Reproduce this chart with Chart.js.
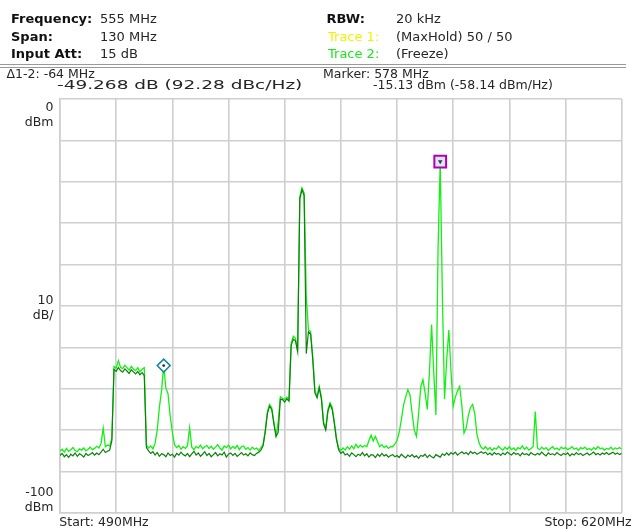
<!DOCTYPE html>
<html>
<head>
<meta charset="utf-8">
<script src="https://cdn.jsdelivr.net/npm/chart.js@4.4.1/dist/chart.umd.min.js"></script>
<style>
  html, body { margin: 0; padding: 0; background: #fff; }
  #wrap { position: relative; width: 632px; height: 529px; overflow: hidden;
          font-family: "DejaVu Sans", sans-serif; color: #262626; }
  #wrap canvas { position: absolute; left: 0; top: 0; }
  .t { position: absolute; white-space: nowrap; font-size: 12.5px; line-height: 14px; }
  .h { font-size: 13px; line-height: 15px; }
  .b { font-weight: bold; color: #111; }
  .ra { text-align: right; }
  .wide { transform: scaleX(1.48); transform-origin: 0 0; }
  .sep { position: absolute; left: 0; width: 626px; height: 0; border-top: 1px solid #9a9a9a; }
</style>
</head>
<body>
<div id="wrap">
  <canvas id="spectrum" width="632" height="529"></canvas>

  <!-- instrument settings -->
  <div class="t h b" id="hl0" style="left:11px;top:11px"></div>
  <div class="t h b" id="hl1" style="left:11px;top:28.7px"></div>
  <div class="t h b" id="hl2" style="left:11px;top:46.4px"></div>
  <div class="t h" id="hv0" style="left:100px;top:11px"></div>
  <div class="t h" id="hv1" style="left:100px;top:28.7px"></div>
  <div class="t h" id="hv2" style="left:100px;top:46.4px"></div>
  <div class="t h b" id="sl0" style="left:326.5px;top:11px"></div>
  <div class="t h" id="sl1" style="left:328px;top:28.7px;color:#f2f200"></div>
  <div class="t h" id="sl2" style="left:328px;top:46.4px;color:#1ee61e"></div>
  <div class="t h" id="sv0" style="left:396px;top:11px"></div>
  <div class="t h" id="sv1" style="left:396px;top:28.7px"></div>
  <div class="t h" id="sv2" style="left:396px;top:46.4px"></div>

  <div class="sep" style="top:64px"></div>
  <div class="sep" style="top:67px"></div>

  <!-- marker readouts -->
  <div class="t" id="d0" style="left:6.5px;top:66.8px"></div>
  <div class="t wide" id="d1" style="left:56.5px;top:77.8px"></div>
  <div class="t" id="m0" style="left:323px;top:66.8px"></div>
  <div class="t" id="m1" style="left:373px;top:77.8px"></div>

  <!-- level axis annotations -->
  <div class="t ra" id="ya0" style="left:0;width:53.5px;top:99.5px"></div>
  <div class="t ra" id="yb0" style="left:0;width:53.5px;top:114.5px"></div>
  <div class="t ra" id="ya1" style="left:0;width:53.5px;top:292.8px"></div>
  <div class="t ra" id="yb1" style="left:0;width:53.5px;top:307.8px"></div>
  <div class="t ra" id="ya2" style="left:0;width:53.5px;top:484.5px"></div>
  <div class="t ra" id="yb2" style="left:0;width:53.5px;top:499.5px"></div>

  <!-- frequency span annotations -->
  <div class="t" id="x0" style="left:59.3px;top:515px"></div>
  <div class="t ra" id="x1" style="left:0;width:631.7px;top:515px"></div>
</div>

<script>
// ---- sweep grid (MHz) ----
const START_MHZ = 490;
const STOP_MHZ = 620;
const STEP_MHZ = 0.5;

// ---- Trace 1: MaxHold, dBm per 0.5 MHz bin from 490 to 620 MHz ----
const trace1MaxHold = [
  // 490.0 - 501.5
  -85.0, -84.6, -85.3, -84.4, -85.1, -84.7, -84.2, -84.9,
  -85.2, -84.5, -84.8, -84.3, -85.0, -84.6, -84.1, -84.7,
  -84.4, -83.9, -84.3, -83.2, -79.5, -84.0, -83.6, -83.8,
  // 502.0 - 509.5
  -82.0, -64.6, -65.0, -63.2, -64.8, -65.1, -64.3, -64.9,
  -65.5, -64.6, -65.2, -65.6, -64.9, -65.9, -65.3, -64.9,
  // 510.0 - 536.5
  -83.6, -84.3, -83.8, -84.5, -83.2, -80.0, -74.5, -70.5,
  -64.4, -69.8, -71.2, -76.5, -80.5, -83.5, -84.2, -83.7,
  -84.6, -84.0, -84.4, -83.8, -79.4, -84.1, -84.7, -83.9,
  -84.3, -83.6, -84.5, -84.0, -83.7, -84.4, -83.9, -84.6,
  -84.1, -83.5, -84.3, -84.8, -83.8, -84.2, -83.6, -84.5,
  -83.9, -84.4, -83.7, -84.7, -84.0, -83.8, -84.6, -84.2,
  -84.8, -84.1, -84.6, -84.3, -84.9, -84.2,
  // 537.0 - 554.5
  -83.5, -80.0, -75.5, -73.8, -74.5, -78.0, -81.3, -78.0,
  -71.9, -72.3, -72.6, -72.0, -72.5, -59.0, -57.3, -57.8,
  -60.8, -23.6, -21.5, -22.7, -47.7, -55.7, -56.2, -62.2,
  -70.5, -71.8, -69.4, -72.0, -78.0, -79.5, -75.0, -73.4,
  -74.5, -78.0, -82.0, -84.3,
  // 555.0 - 566.5
  -84.9, -84.3, -84.8, -84.0, -84.6, -83.8, -84.5, -83.4,
  -84.2, -83.6, -84.1, -83.7, -84.0, -82.5, -81.2, -82.6,
  -81.5, -82.8, -84.0, -83.5, -84.2, -83.8, -84.4, -84.0,
  // 567.0 - 587.5
  -84.0, -83.3, -82.5, -80.5, -77.5, -74.0, -72.0, -70.2,
  -71.5, -76.0, -80.0, -81.5, -76.0, -69.5, -67.8, -71.0,
  -75.0, -66.0, -54.5, -66.0, -76.3, -36.0, -15.13, -47.7,
  -72.5, -63.0, -55.8, -66.0, -74.2, -72.0, -70.5, -69.4,
  -74.0, -80.7, -79.5, -76.5, -74.5, -73.8, -76.0, -81.0,
  -83.1, -84.2,
  // 588.0 - 620.0
  -84.5, -84.0, -84.7, -84.2, -84.9, -84.3, -84.6, -83.9,
  -84.4, -84.8, -84.1, -84.6, -84.0, -84.7, -84.3, -84.9,
  -84.2, -84.5, -83.8, -84.6, -84.1, -84.8, -84.4, -84.0,
  -75.5, -84.3, -84.7, -84.1, -84.6, -84.2, -84.9, -84.4,
  -84.0, -84.6, -84.3, -84.8, -84.1, -84.5, -84.2, -84.7,
  -84.4, -84.0, -84.6, -84.3, -84.9, -84.2, -84.5, -84.1,
  -84.7, -84.4, -84.8, -84.2, -84.6, -84.0, -84.5, -84.3,
  -84.8, -84.4, -84.6, -84.1, -84.7, -84.3, -84.5, -84.2,
  -84.6
];

// ---- Trace 2: Freeze, dBm per 0.5 MHz bin from 490 to 620 MHz ----
const trace2Freeze = [
  // 490.0 - 501.5
  -86.1, -85.6, -86.4, -85.9, -86.6, -85.8, -86.2, -85.5,
  -86.3, -85.7, -86.0, -86.5, -85.6, -86.1, -85.8, -85.4,
  -86.0, -85.5, -85.9, -85.3, -84.6, -85.4, -85.1, -84.8,
  // 502.0 - 509.5
  -82.5, -65.3, -65.8, -64.9, -65.6, -66.0, -65.2, -65.7,
  -66.3, -65.4, -65.9, -66.4, -65.8, -66.6, -66.1, -66.8,
  // 510.0 - 536.5
  -84.2, -85.0, -85.6, -85.2, -86.0, -85.4, -86.3, -85.7,
  -85.9, -86.4, -85.5, -86.1, -85.8, -86.5, -85.6, -86.0,
  -85.3, -85.9, -86.2, -85.6, -86.4, -85.7, -85.1, -86.0,
  -85.5, -86.3, -85.8, -85.2, -86.1, -85.6, -86.4, -85.9,
  -85.4, -86.2, -85.7, -86.0, -85.3, -86.5, -85.8, -85.5,
  -86.1, -85.6, -86.3, -85.9, -85.4, -86.0, -85.7, -86.2,
  -85.5, -85.9, -86.1, -85.6, -85.3, -84.8,
  // 537.0 - 554.5
  -83.8, -80.5, -76.0, -74.2, -75.0, -78.5, -81.5, -80.5,
  -72.5, -72.6, -73.2, -72.4, -73.0, -59.5, -58.0, -58.4,
  -61.0, -24.2, -21.9, -23.3, -61.5, -56.2, -56.8, -63.0,
  -71.0, -72.2, -69.8, -72.5, -78.5, -80.0, -75.5, -73.8,
  -75.0, -78.5, -82.4, -84.8,
  // 555.0 - 566.5
  -85.6, -85.2, -86.0, -85.7, -86.3, -85.5, -85.9, -86.4,
  -85.8, -86.1, -85.4, -86.2, -85.7, -86.5, -85.9, -86.0,
  -86.6, -85.8, -86.3, -85.6, -86.2, -85.9, -86.5, -86.1,
  // 567.0 - 587.5
  -85.9, -86.4, -86.1, -86.6, -85.8, -86.3, -86.7, -86.0,
  -86.4, -85.9, -86.5, -86.2, -86.8, -86.1, -86.3, -85.8,
  -86.6, -86.0, -86.4, -86.7, -85.9, -86.2, -86.5, -85.7,
  -86.1, -85.5, -86.0, -85.4, -85.8, -85.3, -86.0, -85.6,
  -85.2, -85.7, -85.4, -85.9, -85.1, -85.6, -85.3, -85.8,
  -85.5, -85.2,
  // 588.0 - 620.0
  -85.6, -85.3, -85.9, -85.5, -86.0, -85.4, -85.8, -85.6,
  -86.1, -85.5, -85.9, -85.3, -85.7, -86.0, -85.4, -85.8,
  -85.6, -86.2, -85.5, -85.9, -85.7, -86.1, -85.4, -85.8,
  -86.0, -85.6, -85.9, -85.3, -85.8, -86.2, -85.5, -85.9,
  -85.7, -86.0, -85.4, -85.8, -86.1, -85.6, -85.9, -85.5,
  -86.2, -85.7, -86.0, -85.4, -85.9, -85.6, -86.1, -85.8,
  -85.5, -86.0, -85.7, -85.3, -85.9, -85.6, -86.0, -85.5,
  -85.8, -85.4, -85.9, -85.6, -85.3, -85.8, -85.5, -85.9,
  -85.6
];

// ---- markers: 1 = reference marker, 2 = delta marker ----
const markerFreqsMHz = [578, 514];
const markerLevelsDbm = [-15.13, -64.40];

// ---- screen texts ----
const settingLabels = ['Frequency:', 'Span:', 'Input Att:'];
const settingValues = ['555 MHz', '130 MHz', '15 dB'];
const traceLabels = ['RBW:', 'Trace 1:', 'Trace 2:'];
const traceValues = ['20 kHz', '(MaxHold) 50 / 50', '(Freeze)'];
const deltaReadout = ['\u03941-2: -64 MHz', '-49.268 dB (92.28 dBc/Hz)'];
const markerReadout = ['Marker: 578 MHz', '-15.13 dBm (-58.14 dBm/Hz)'];
const levelAxisLabels = [['0', 'dBm'], ['10', 'dB/'], ['-100', 'dBm']];
const spanLabels = ['Start: 490MHz', 'Stop: 620MHz'];

const put = (id, text) => { document.getElementById(id).textContent = text; };
settingLabels.forEach((s, i) => put('hl' + i, s));
settingValues.forEach((s, i) => put('hv' + i, s));
traceLabels.forEach((s, i) => put('sl' + i, s));
traceValues.forEach((s, i) => put('sv' + i, s));
deltaReadout.forEach((s, i) => put('d' + i, s));
markerReadout.forEach((s, i) => put('m' + i, s));
levelAxisLabels.forEach((pair, i) => { put('ya' + i, pair[0]); put('yb' + i, pair[1]); });
spanLabels.forEach((s, i) => put('x' + i, s));

// ---- chart ----
const toPoints = vals => vals.map((v, i) => ({ x: START_MHZ + i * STEP_MHZ, y: v }));

const GRID = '#cfcfcf';

new Chart(document.getElementById('spectrum'), {
  type: 'line',
  data: {
    datasets: [
      {
        label: 'Marker 1',
        type: 'scatter',
        data: [{ x: markerFreqsMHz[0], y: markerLevelsDbm[0] }],
        pointStyle: 'rect',
        pointRadius: 8.3,
        borderColor: '#b000b8',
        borderWidth: 2,
        backgroundColor: '#dde4f2',
        order: -3
      },
      {
        label: 'Marker 1 glyph',
        type: 'scatter',
        data: [{ x: markerFreqsMHz[0], y: markerLevelsDbm[0] }],
        pointStyle: 'triangle',
        rotation: 180,
        pointRadius: 2.6,
        borderWidth: 0,
        backgroundColor: '#3a3a5a',
        order: -4
      },
      {
        label: 'Marker 2',
        type: 'scatter',
        data: [{ x: markerFreqsMHz[1], y: markerLevelsDbm[1] }],
        pointStyle: 'rectRot',
        pointRadius: 6.5,
        borderColor: '#17889a',
        borderWidth: 1.5,
        backgroundColor: '#ffffff',
        order: -1
      },
      {
        label: 'Marker 2 dot',
        type: 'scatter',
        data: [{ x: markerFreqsMHz[1], y: markerLevelsDbm[1] }],
        pointStyle: 'circle',
        pointRadius: 1.4,
        borderWidth: 0,
        backgroundColor: '#1d3c44',
        order: -2
      },
      {
        label: 'Trace 2 (Freeze)',
        data: toPoints(trace2Freeze),
        borderColor: '#0d800d',
        borderWidth: 1.2,
        pointRadius: 0,
        tension: 0,
        order: 0
      },
      {
        label: 'Trace 1 (MaxHold)',
        data: toPoints(trace1MaxHold),
        borderColor: '#14f014',
        borderWidth: 1.3,
        pointRadius: 0,
        tension: 0,
        order: 1
      }
    ]
  },
  options: {
    responsive: false,
    animation: false,
    events: [],
    layout: { padding: { left: 60, right: 6, top: 99, bottom: 16 } },
    plugins: { legend: { display: false }, tooltip: { enabled: false } },
    scales: {
      x: {
        type: 'linear',
        min: START_MHZ,
        max: STOP_MHZ,
        ticks: { display: false, stepSize: 13 },
        grid: { color: GRID, lineWidth: 1.6, drawTicks: false },
        border: { display: true, color: GRID, width: 1.6 }
      },
      y: {
        type: 'linear',
        min: -100,
        max: 0,
        ticks: { display: false, stepSize: 10 },
        grid: { color: GRID, lineWidth: 1.6, drawTicks: false },
        border: { display: true, color: GRID, width: 1.6 }
      }
    }
  }
});
</script>
</body>
</html>
